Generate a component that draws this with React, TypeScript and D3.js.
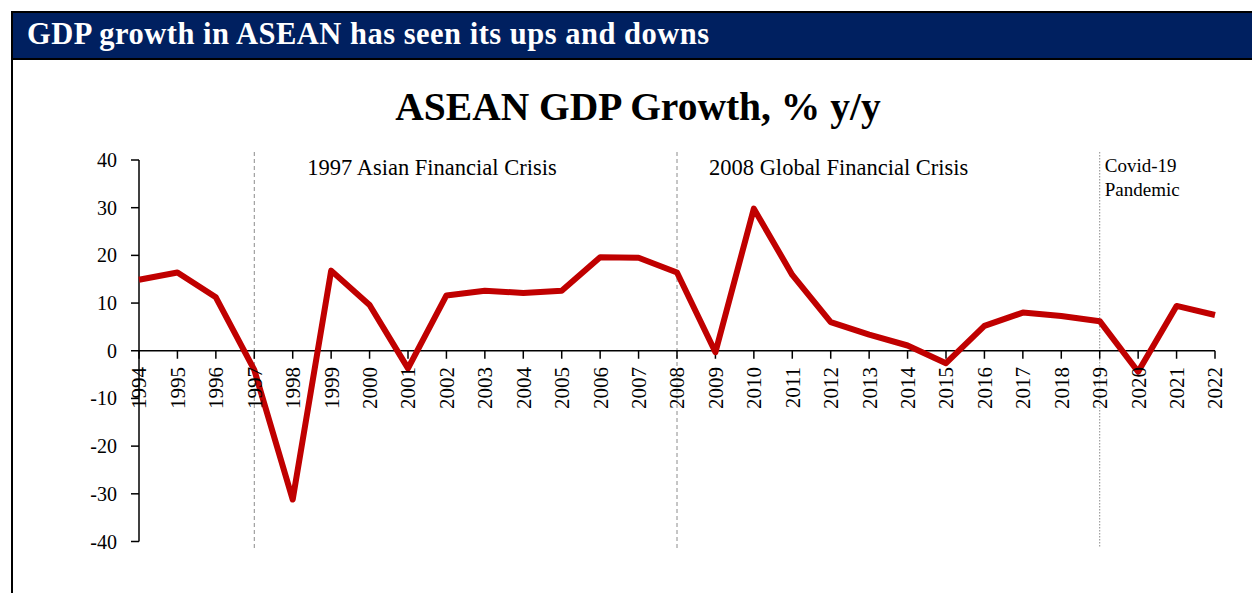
import React from "react";
import * as d3 from "d3";

const years: number[] = [1994,1995,1996,1997,1998,1999,2000,2001,2002,2003,2004,2005,2006,2007,2008,2009,2010,2011,2012,2013,2014,2015,2016,2017,2018,2019,2020,2021,2022];
const growth: number[] = [14.9,16.4,11.2,-4.0,-31.2,16.8,9.6,-3.7,11.6,12.6,12.1,12.6,19.6,19.5,16.4,-0.3,29.8,15.9,6.0,3.4,1.1,-2.6,5.2,8.0,7.3,6.2,-4.4,9.4,7.5];
const yTicks: number[] = [40,30,20,10,0,-10,-20,-30,-40];
const events = [
  { year: 1997, label: ["1997 Asian Financial Crisis"], dash: "4,3" },
  { year: 2008, label: ["2008 Global Financial Crisis"], dash: "4,3" },
  { year: 2019, label: ["Covid-19", "Pandemic"], dash: "1.5,1.5" },
];

const headerTitle = "GDP growth in ASEAN has seen its ups and downs";
const chartTitle = "ASEAN GDP Growth, % y/y";

export default function App() {
  const W = 1252, H = 593;
  const font = "'Liberation Serif', 'Times New Roman', serif";
  const x = d3.scaleLinear().domain([1994, 2022]).range([139, 1215]);
  const y = d3.scaleLinear().domain([-40, 40]).range([541.5, 160]);
  const line = d3.line<number>().x((_, i) => x(years[i])).y((d) => y(d));

  const labelOffsets = [
    { dx: 53, dy: 175, size: 22.5 },
    { dx: 32, dy: 175, size: 22.5 },
    { dx: 5, dy: 172, size: 19 },
  ];

  return (
    <svg width={W} height={H} style={{ position: "absolute", left: 0, top: 0, display: "block" }}>
      <rect x={0} y={0} width={W} height={H} fill="#fff" />
      {/* header */}
      <rect x={12} y={12} width={W + 10} height={47} fill="#002060" stroke="#000" strokeWidth={2} />
      <line x1={12} y1={59} x2={12} y2={H} stroke="#000" strokeWidth={2} />
      <text x={27} y={44} fill="#fff" fontFamily={font} fontWeight="bold" fontSize={30.5} letterSpacing={0.5}>{headerTitle}</text>

      {/* chart title */}
      <text x={638} y={120} textAnchor="middle" fontFamily={font} fontWeight="bold" fontSize={39.5}>{chartTitle}</text>

      {/* event lines */}
      {events.map((e, i) => (
        <g key={e.year}>
          <line x1={x(e.year)} x2={x(e.year)} y1={152} y2={548} stroke="#8c8c8c" strokeWidth={1} strokeDasharray={e.dash} />
          {e.label.map((t, j) => (
            <text key={j} x={x(e.year) + labelOffsets[i].dx} y={labelOffsets[i].dy + j * 24}
              fontFamily={font} fontSize={labelOffsets[i].size}>{t}</text>
          ))}
        </g>
      ))}

      {/* y axis */}
      <line x1={139} x2={139} y1={y(40)} y2={y(-40)} stroke="#000" strokeWidth={1.5} />
      {yTicks.map((t) => (
        <g key={t}>
          <line x1={131} x2={139} y1={y(t)} y2={y(t)} stroke="#000" strokeWidth={1.5} />
          <text x={117} y={y(t)} dy="0.35em" textAnchor="end" fontFamily={font} fontSize={20}>{t}</text>
        </g>
      ))}

      {/* x axis at zero */}
      <line x1={x(1994)} x2={x(2022)} y1={y(0)} y2={y(0)} stroke="#000" strokeWidth={1.5} />
      {years.map((yr) => (
        <g key={yr}>
          <line x1={x(yr)} x2={x(yr)} y1={y(0)} y2={y(0) + 8} stroke="#000" strokeWidth={1.5} />
        </g>
      ))}

      {/* series */}
      <path d={line(growth) || ""} fill="none" stroke="#C00000" strokeWidth={6} strokeLinejoin="round" strokeLinecap="butt" />

      {/* x labels on top */}
      {years.map((yr) => (
        <text key={yr} transform={`translate(${x(yr)},${367}) rotate(-90)`} textAnchor="end" dy="0.35em"
          fontFamily={font} fontSize={21}>{yr}</text>
      ))}
    </svg>
  );
}
